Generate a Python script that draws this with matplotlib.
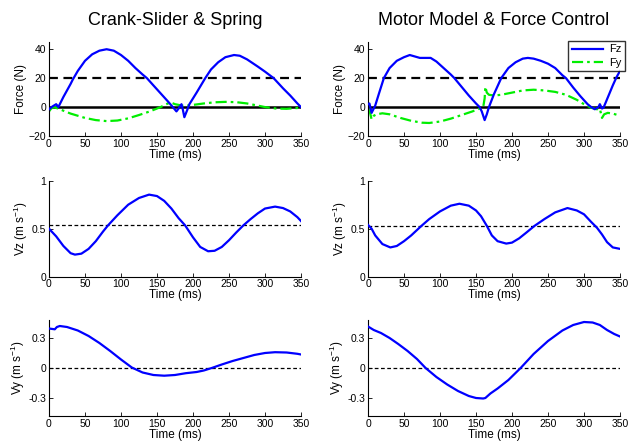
import matplotlib
matplotlib.use("Agg")
import matplotlib.pyplot as plt

plt.rcParams['font.family'] = ['Liberation Sans', 'DejaVu Sans']
plt.rcParams['mathtext.default'] = 'regular'

titles = ["Crank-Slider & Spring", "Motor Model & Force Control"]
time_ticks = [0, 50, 100, 150, 200, 250, 300, 350]

# ---- Left: Crank-Slider & Spring ----
fz_l_t = [0, 5, 10, 13, 20, 30, 33, 40, 50, 60, 70, 80, 90, 100, 110, 120, 130, 136, 145, 155, 165,
          172, 177, 180, 184, 186, 188, 192, 195, 205, 217, 225, 235, 245, 257, 265, 275, 290, 300,
          312, 325, 335, 345, 350]
fz_l = [-1.5, 0.5, 2, 0, 7, 16, 19, 25, 32, 36.5, 39, 40, 39, 36, 32, 27, 22.5, 20, 15, 9.5, 4,
        0, -3, -1, 2, -2, -7, -2, 2, 10, 20, 26, 31, 34.5, 36, 35.5, 33, 28, 24.5,
        20, 13, 8, 2.5, 0]
fy_l_t = [0, 3, 7, 15, 30, 50, 65, 80, 95, 110, 125, 140, 155, 165, 170, 175, 180, 185, 190, 200,
          215, 230, 245, 260, 275, 290, 300, 315, 330, 340, 350]
fy_l = [-3, -1, 0, -1.5, -4.5, -7.5, -9, -9.7, -9.3, -7.8, -5.5, -3, 0, 2.5, 3, 2, 1.5, 1, 1, 1.5,
        2.5, 3.3, 3.6, 3.4, 2.5, 1, 0, -1, -1.2, -0.8, -0.5]
vz_l_t = [0, 10, 20, 30, 36, 45, 55, 65, 75, 82, 95, 110, 125, 139, 150, 160, 170, 180, 189, 200,
          210, 221, 230, 240, 250, 260, 270, 280, 290, 300, 314, 325, 335, 345, 350]
vz_l = [0.50, 0.42, 0.32, 0.245, 0.23, 0.24, 0.29, 0.37, 0.47, 0.535, 0.64, 0.75, 0.82, 0.855, 0.84,
        0.79, 0.71, 0.61, 0.535, 0.41, 0.31, 0.265, 0.27, 0.31, 0.38, 0.46, 0.535, 0.60, 0.66, 0.71,
        0.73, 0.715, 0.68, 0.62, 0.58]
vy_l_t = [0, 8, 11, 15, 25, 40, 55, 70, 85, 100, 115, 130, 145, 160, 175, 190, 205, 215, 226, 240,
          255, 270, 285, 300, 314, 330, 345, 350]
vy_l = [0.395, 0.387, 0.41, 0.42, 0.41, 0.375, 0.32, 0.25, 0.17, 0.085, 0.005, -0.045, -0.07, -0.077,
        -0.07, -0.052, -0.04, -0.025, 0.0, 0.035, 0.07, 0.10, 0.13, 0.15, 0.158, 0.155, 0.142, 0.135]
vz_mean_l = 0.535

# ---- Right: Motor Model & Force Control ----
fz_r_t = [0, 2, 5, 8, 10, 15, 22, 30, 40, 50, 58, 65, 72, 80, 87, 95, 105, 115, 120, 130, 140, 150,
          155, 158, 162, 165, 168, 175, 185, 195, 205, 215, 222, 230, 240, 250, 260, 270, 275, 285,
          295, 305, 310, 315, 320, 322, 325, 327, 330, 335, 340, 345, 350]
fz_r = [2, 2.5, -4, -1, 1, 9, 20, 27, 32, 34.5, 36, 35, 34, 34, 34, 31.5, 27, 22.5, 20, 14, 8, 2.5,
        0, -3, -9, -5, 0, 9, 20, 27, 31, 33.5, 34, 33.5, 32, 30, 27, 22, 20, 13.5,
        7.5, 2, 0, -1.5, 0, 2, -1, -0.5, 3, 9, 15, 20.5, 25]
fy_r_t = [0, 2, 5, 8, 12, 20, 30, 45, 60, 75, 85, 100, 115, 130, 145, 155, 160, 162, 163, 165, 168,
          175, 185, 200, 215, 230, 245, 260, 275, 290, 300, 310, 318, 322, 325, 328, 333, 340, 350]
fy_r = [-3, -2, -8.5, -6, -5, -4.3, -5, -7.5, -9.5, -10.8, -11, -10, -8, -5.5, -3, -1, 0, 6, 14, 10,
        8.5, 8, 8.5, 10, 11.5, 12, 11.5, 10.5, 8.5, 5, 2, -0.5, -1.5, -1, -7.5, -5, -4, -4.5, -6]
vz_r_t = [0, 5, 10, 20, 31, 40, 50, 60, 74, 85, 100, 115, 127, 140, 150, 157, 165, 172, 180, 192,
          200, 210, 220, 231, 245, 260, 277, 290, 300, 310, 318, 325, 332, 340, 350]
vz_r = [0.54, 0.50, 0.43, 0.34, 0.305, 0.32, 0.37, 0.43, 0.528, 0.60, 0.68, 0.74, 0.76, 0.74, 0.69,
        0.63, 0.53, 0.43, 0.37, 0.345, 0.355, 0.40, 0.46, 0.528, 0.60, 0.67, 0.715, 0.69, 0.65,
        0.57, 0.51, 0.44, 0.36, 0.305, 0.29]
vy_r_t = [0, 8, 18, 30, 42, 55, 68, 80, 95, 110, 125, 140, 150, 160, 163, 170, 180, 195, 212, 230,
          250, 270, 285, 300, 312, 322, 332, 342, 350]
vy_r = [0.415, 0.38, 0.35, 0.30, 0.24, 0.17, 0.09, 0.0, -0.09, -0.165, -0.23, -0.28, -0.30, -0.305,
        -0.30, -0.255, -0.205, -0.12, 0.0, 0.14, 0.27, 0.375, 0.43, 0.46, 0.455, 0.43, 0.38, 0.34, 0.315]
vz_mean_r = 0.528

force_target = 20

BLUE = '#0000ff'
GREEN = '#00ee00'

fig = plt.figure(figsize=(6.3, 4.42), dpi=100)

lefts = [49 / 630, 368 / 630]
width = 252 / 630
rows = [(1 - 136 / 442, 94 / 442), (1 - 276.7 / 442, 96 / 442), (1 - 416 / 442, 96 / 442)]

cols = [
    dict(fz_t=fz_l_t, fz=fz_l, fy_t=fy_l_t, fy=fy_l, vz_t=vz_l_t, vz=vz_l, vy_t=vy_l_t, vy=vy_l, vzm=vz_mean_l),
    dict(fz_t=fz_r_t, fz=fz_r, fy_t=fy_r_t, fy=fy_r, vz_t=vz_r_t, vz=vz_r, vy_t=vy_r_t, vy=vy_r, vzm=vz_mean_r),
]


def style(ax):
    ax.spines['top'].set_visible(False)
    ax.spines['right'].set_visible(False)
    ax.spines['left'].set_linewidth(0.8)
    ax.spines['bottom'].set_linewidth(0.8)
    ax.tick_params(direction='in', length=3, width=0.6, labelsize=7.5, pad=2)
    ax.set_xlim(0, 350)
    ax.set_xticks(time_ticks)
    ax.set_xlabel('Time (ms)', fontsize=8.5, labelpad=0)


for ci, d in enumerate(cols):
    # Force
    ax = fig.add_axes([lefts[ci], rows[0][0], width, rows[0][1]])
    ax.axhline(0, color='black', lw=1.8, zorder=1)
    ax.axhline(force_target, color='black', lw=1.6, ls=(0, (4, 2.5)), zorder=1)
    l1, = ax.plot(d['fz_t'], d['fz'], color=BLUE, lw=1.6, label='Fz', zorder=3)
    l2, = ax.plot(d['fy_t'], d['fy'], color=GREEN, lw=1.6, ls=(0, (5, 1.8, 1.2, 1.8)), label='Fy', zorder=2)
    ax.set_ylim(-20, 45)
    ax.set_yticks([-20, 0, 20, 40])
    ax.set_ylabel('Force (N)', fontsize=8.5, labelpad=1)
    style(ax)
    ax.set_title(titles[ci], fontsize=13, pad=12)
    if ci == 1:
        leg = ax.legend(loc='upper right', bbox_to_anchor=(1.02, 1.01), fontsize=8,
                        frameon=True, fancybox=False, edgecolor='black', handlelength=2.8,
                        borderpad=0.3, labelspacing=0.3, handletextpad=0.6, borderaxespad=0)
        leg.get_frame().set_linewidth(1.0)

    # Vz
    ax = fig.add_axes([lefts[ci], rows[1][0], width, rows[1][1]])
    ax.axhline(d['vzm'], color='black', lw=0.9, ls=(0, (3, 2)), zorder=1)
    ax.plot(d['vz_t'], d['vz'], color=BLUE, lw=1.6, zorder=3)
    ax.set_ylim(0, 1)
    ax.set_yticks([0, 0.5, 1])
    ax.set_yticklabels(['0', '0.5', '1'])
    ax.set_ylabel(r'Vz (m s$^{-1}$)', fontsize=8.5, labelpad=1)
    style(ax)

    # Vy
    ax = fig.add_axes([lefts[ci], rows[2][0], width, rows[2][1]])
    ax.axhline(0, color='black', lw=0.9, ls=(0, (3, 2)), zorder=1)
    ax.plot(d['vy_t'], d['vy'], color=BLUE, lw=1.6, zorder=3)
    ax.set_ylim(-0.48, 0.48)
    ax.set_yticks([-0.3, 0, 0.3])
    ax.set_yticklabels(['-0.3', '0', '0.3'])
    ax.set_ylabel(r'Vy (m s$^{-1}$)', fontsize=8.5, labelpad=1)
    style(ax)

fig.savefig('out.png', dpi=100)
